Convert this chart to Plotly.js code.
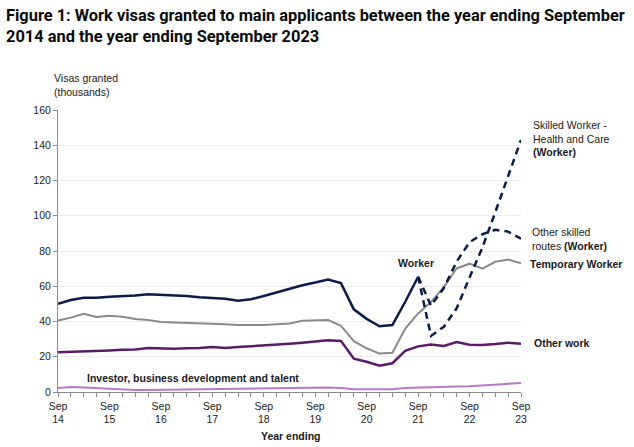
<!DOCTYPE html>
<html>
<head>
<meta charset="utf-8">
<script src="https://cdn.plot.ly/plotly-3.0.1.min.js"></script>
<style>
html,body{margin:0;padding:0;background:#fff;}
#chart{width:634px;height:447px;}
</style>
</head>
<body>
<div id="chart"></div>
<script>
// Quarterly periods (year ending)
const periods = [
  'Sep 14','Dec 14','Mar 15','Jun 15','Sep 15','Dec 15','Mar 16','Jun 16',
  'Sep 16','Dec 16','Mar 17','Jun 17','Sep 17','Dec 17','Mar 18','Jun 18',
  'Sep 18','Dec 18','Mar 19','Jun 19','Sep 19','Dec 19','Mar 20','Jun 20',
  'Sep 20','Dec 20','Mar 21','Jun 21','Sep 21','Dec 21','Mar 22','Jun 22',
  'Sep 22','Dec 22','Mar 23','Jun 23','Sep 23'
];
// Tick labels (shown only for September quarters)
const tickLabels = ['Sep<br>14','Sep<br>15','Sep<br>16','Sep<br>17','Sep<br>18','Sep<br>19','Sep<br>20','Sep<br>21','Sep<br>22','Sep<br>23'];
const yTicks = [0,20,40,60,80,100,120,140,160];

// Series values (thousands)
const worker = [50.0,52.2,53.5,53.5,54.1,54.3,54.8,55.4,55.2,54.6,54.4,53.7,53.3,52.9,51.8,52.6,
  54.5,56.5,58.6,60.6,62.1,63.8,61.8,46.9,41.5,37.3,38.0,51.2,65.4];
const healthCare = [65.4,31.8,37.0,47.5,65.0,82.0,102.0,122.0,143.0];
const otherSkilled = [65.4,49.0,59.0,74.0,85.0,89.5,92.0,91.0,87.0];
const temporaryWorker = [40.5,42.2,44.4,42.5,43.3,42.7,41.4,40.8,39.7,39.5,39.3,39.1,38.9,38.4,38.0,37.8,
  38.0,38.4,38.9,40.4,40.8,40.8,37.6,28.8,24.8,21.8,22.3,36.0,44.6,51.0,59.5,70.2,72.8,70.0,73.9,75.2,73.0];
const otherWork = [22.5,22.7,22.9,23.4,23.6,24.0,24.1,24.9,24.6,24.6,24.8,24.9,25.5,24.9,25.5,25.9,
  26.5,27.0,27.4,28.0,28.9,29.4,29.0,18.9,17.2,14.9,16.3,23.4,25.9,27.0,26.1,28.4,26.8,26.7,27.2,28.0,27.4];
const investor = [2.2,2.8,2.6,2.2,1.8,1.4,1.2,1.2,1.3,1.3,1.4,1.5,1.7,1.8,1.9,2.0,
  2.1,2.2,2.4,2.5,2.5,2.5,2.3,1.6,1.5,1.5,1.6,2.3,2.6,2.8,3.0,3.1,3.3,3.7,4.2,4.9,5.1];

const NAVY = '#0d1b4b', GRAY = '#8a8a8a', PURPLE = '#5b1a6b', LILAC = '#b57bc8';
const FONT = 'Liberation Sans, Arial, sans-serif';

const sepPeriods = periods.filter(q => q.startsWith('Sep'));
const tickvals = periods;
const ticktext = periods.map(p => p.startsWith('Sep') ? tickLabels[sepPeriods.indexOf(p)] : '');

const traces = [
  {x: periods, y: investor, mode:'lines', line:{color:LILAC, width:2}},
  {x: periods, y: otherWork, mode:'lines', line:{color:PURPLE, width:2.5}},
  {x: periods, y: temporaryWorker, mode:'lines', line:{color:GRAY, width:2}},
  {x: periods.slice(0, worker.length), y: worker, mode:'lines', line:{color:NAVY, width:2.5}},
  {x: periods.slice(periods.length - healthCare.length), y: healthCare, mode:'lines', line:{color:NAVY, width:2.5, dash:'7px,5px'}},
  {x: periods.slice(periods.length - otherSkilled.length), y: otherSkilled, mode:'lines', line:{color:NAVY, width:2.5, dash:'7px,5px'}}
];

const L = 58, R = 521, T = 110, B = 392;
const px = v => (v - L) / (R - L);
const py = v => (B - v) / (B - T);
const annFont = {family: FONT, size: 10.5, color: '#1a1a1a'};

const layout = {
  width: 634, height: 447,
  margin: {l: L, r: 634 - R, t: T, b: 447 - B, pad: 0},
  paper_bgcolor: '#fff', plot_bgcolor: '#fff',
  showlegend: false,
  xaxis: {
    type: 'category', range: [0, periods.length - 1],
    tickmode: 'array', tickvals: tickvals, ticktext: ticktext,
    ticks: 'outside', ticklen: 4, tickcolor: '#8c8c8c', tickwidth: 1,
    showline: true, linecolor: '#8c8c8c', linewidth: 1,
    showgrid: false, zeroline: false, tickangle: 0,
    tickfont: {family: FONT, size: 10.5, color: '#222'},
    fixedrange: true
  },
  yaxis: {
    range: [0, 160], tickmode: 'array', tickvals: yTicks,
    ticks: 'outside', ticklen: 4, tickcolor: '#8c8c8c',
    showline: true, linecolor: '#8c8c8c', linewidth: 1,
    showgrid: true, gridcolor: '#ececec', gridwidth: 1, zeroline: false,
    tickfont: {family: FONT, size: 10.5, color: '#222'},
    fixedrange: true
  },
  annotations: [
    {text: '<b>Figure 1: Work visas granted to main applicants between the year ending September<br>2014 and the year ending September 2023</b>',
     xref:'paper', yref:'paper', x: px(4), y: py(4), xanchor:'left', yanchor:'top', align:'left', showarrow:false,
     font: {family: 'Roboto, Liberation Sans, Arial, sans-serif', size: 16.4, color: '#0b0c0c'}},
    {text: 'Visas granted<br>(thousands)', xref:'paper', yref:'paper', x: px(52), y: py(85), xanchor:'left', yanchor:'middle', align:'left', showarrow:false, font: annFont},
    {text: '<b>Year ending</b>', xref:'paper', yref:'paper', x: px(291), y: py(436), xanchor:'center', yanchor:'middle', showarrow:false, font: annFont},
    {text: '<b>Investor, business development and talent</b>', xref:'paper', yref:'paper', x: px(193), y: py(378), xanchor:'center', yanchor:'middle', showarrow:false, font: annFont},
    {text: '<b>Worker</b>', xref:'paper', yref:'paper', x: px(416), y: py(263), xanchor:'center', yanchor:'middle', showarrow:false, font: annFont},
    {text: '<b>Temporary Worker</b>', xref:'paper', yref:'paper', x: px(528), y: py(264), xanchor:'left', yanchor:'middle', showarrow:false, font: annFont},
    {text: '<b>Other work</b>', xref:'paper', yref:'paper', x: px(532), y: py(343), xanchor:'left', yanchor:'middle', showarrow:false, font: annFont},
    {text: 'Skilled Worker -<br>Health and Care<br><b>(Worker)</b>', xref:'paper', yref:'paper', x: px(531), y: py(138), xanchor:'left', yanchor:'middle', align:'left', showarrow:false, font: annFont},
    {text: 'Other skilled<br>routes <b>(Worker)</b>', xref:'paper', yref:'paper', x: px(530), y: py(239), xanchor:'left', yanchor:'middle', align:'left', showarrow:false, font: annFont}
  ]
};

Plotly.newPlot('chart', traces, layout, {displayModeBar: false, staticPlot: true});
</script>
</body>
</html>
